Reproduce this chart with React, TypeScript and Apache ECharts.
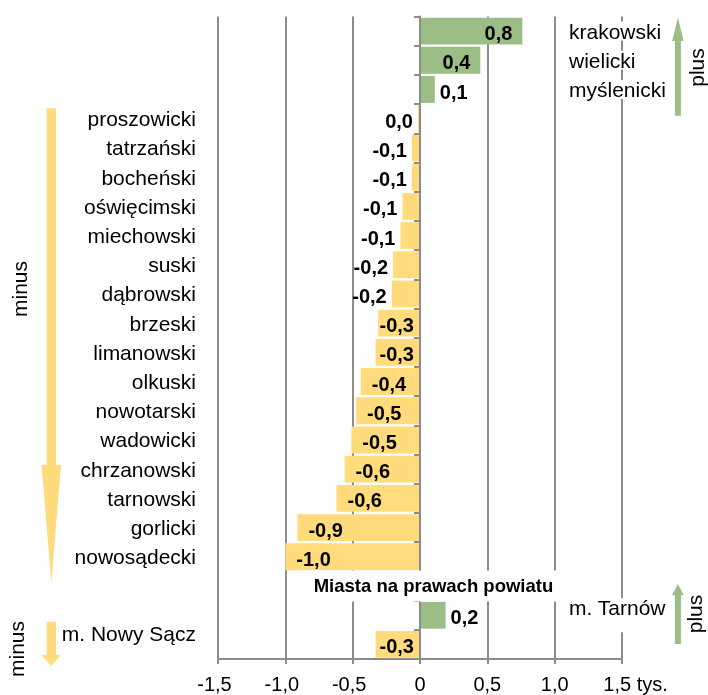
import React, { useEffect, useRef } from 'react';
import * as echarts from 'echarts';

// ---- data ----
const plusNames = ['krakowski', 'wielicki', 'myślenicki'];
const plusValues = [0.76, 0.448, 0.11];
const minusNames = [
  'proszowicki', 'tatrzański', 'bocheński', 'oświęcimski', 'miechowski', 'suski',
  'dąbrowski', 'brzeski', 'limanowski', 'olkuski', 'nowotarski', 'wadowicki',
  'chrzanowski', 'tarnowski', 'gorlicki', 'nowosądecki',
];
const minusValues = [
  -0.015, -0.06, -0.06, -0.13, -0.145, -0.2,
  -0.21, -0.31, -0.33, -0.44, -0.475, -0.51,
  -0.56, -0.62, -0.91, -1.0,
];
const cityHeader = 'Miasta na prawach powiatu';
const cityPlusNames = ['m. Tarnów'];
const cityPlusValues = [0.19];
const cityMinusNames = ['m. Nowy Sącz'];
const cityMinusValues = [-0.33];
const unitLabel = 'tys.';
const plusWord = 'plus';
const minusWord = 'minus';

// ---- style ----
const GREEN = '#9BBE86';
const YELLOW = '#FFDB7C';
const GRAY = '#8C8C8C';
const FONT = "'Liberation Sans', Arial, sans-serif";

const categories = [...plusNames, ...minusNames, cityHeader, ...cityPlusNames, ...cityMinusNames];
const values: (number | null)[] = [...plusValues, ...minusValues, null, ...cityPlusValues, ...cityMinusValues];
const leftSet = new Set([...minusNames, ...cityMinusNames]);
const rightSet = new Set([...plusNames, ...cityPlusNames]);

const fmt = (v: number) => {
  let s = v.toFixed(1);
  if (s === '-0.0') s = '0.0';
  return s.replace('.', ',');
};

const labelFor = (v: number) => {
  if (v >= 0) {
    return v > 0.3 ? { position: 'insideRight', distance: 10 } : { position: 'right', distance: 5 };
  }
  const a = Math.abs(v);
  if (a < 0.25) return { position: 'left', distance: 5 };
  if (a < 0.4) return { position: 'insideRight', distance: 6 };
  return { position: 'insideLeft', distance: 11 };
};

const arrowUp = (cx: number, tip: number, headBase: number, bottom: number, hw: number, sw: number) => [
  [cx, tip], [cx + hw, headBase], [cx + sw, headBase], [cx + sw, bottom],
  [cx - sw, bottom], [cx - sw, headBase], [cx - hw, headBase],
];
const arrowDown = (cx: number, top: number, headBase: number, tip: number, hw: number, sw: number) => [
  [cx - sw, top], [cx + sw, top], [cx + sw, headBase], [cx + hw, headBase],
  [cx, tip], [cx - hw, headBase], [cx - sw, headBase],
];

const vText = (x: number, y: number, text: string, size: number) => ({
  type: 'text', x, y, rotation: Math.PI / 2,
  style: { text, fill: '#000', font: `${size}px ${FONT}`, align: 'center', verticalAlign: 'middle' },
});

export default function App() {
  const ref = useRef<HTMLDivElement>(null);
  useEffect(() => {
    if (!ref.current) return;
    const chart = echarts.init(ref.current, null, { renderer: 'svg' });
    const lineStyle = { color: GRAY, width: 2 };
    const option: any = {
      animation: false,
      textStyle: { fontFamily: FONT },
      grid: { left: 218, right: 86, top: 16.5, bottom: 36, containLabel: false },
      xAxis: {
        type: 'value', min: -1.5, max: 1.5, interval: 0.5,
        axisLine: { show: true, onZero: false, lineStyle },
        axisTick: { show: true, length: 5, lineStyle },
        splitLine: { show: true, lineStyle },
        axisLabel: {
          margin: 15, fontSize: 20, color: '#000', fontFamily: FONT,
          formatter: (v: number) => {
            if (Math.abs(v - 1.5) < 1e-9) return '{q|\u00a0}' + fmt(v) + ' ' + unitLabel;
            if (v < 0) return fmt(v) + '{p|\u00a0}';
            return v === 0 ? '0' : fmt(v);
          },
          rich: {
            p: { width: 7, fontSize: 20, fontFamily: FONT },
            q: { width: 27, fontSize: 20, fontFamily: FONT },
          },
        },
      },
      yAxis: [
        {
          type: 'category', data: categories, inverse: true, position: 'left',
          axisLine: { show: false, onZero: false }, axisTick: { show: false },
          axisLabel: {
            interval: 0, margin: 22, fontSize: 21, color: '#000', fontFamily: FONT,
            lineHeight: 21, padding: [4, 0, 0, 0],
            formatter: (v: string) => (leftSet.has(v) ? (cityMinusNames.includes(v) ? v + '\n' : v) : ''),
          },
        },
        {
          type: 'category', data: categories, inverse: true, position: 'left', z: 5,
          axisLine: { show: true, onZero: true, lineStyle },
          axisTick: { show: true, length: 6, interval: 0, lineStyle },
          axisLabel: { show: false },
        },
        {
          type: 'category', data: categories, inverse: true, position: 'right', z: 1,
          axisLine: { show: false, onZero: false }, axisTick: { show: false },
          axisLabel: {
            interval: 0, margin: -55, align: 'left', fontSize: 21, color: '#000', fontFamily: FONT,
            backgroundColor: '#fff', padding: [4, 2, 0, 2], lineHeight: 15,
            formatter: (v: string) => (rightSet.has(v) ? (cityPlusNames.includes(v) ? v + '\n' : v) : ''),
          },
        },
      ],
      series: [
        {
          type: 'bar', yAxisIndex: 0, barCategoryGap: '8%',
          label: {
            show: true, fontSize: 20, fontWeight: 'bold', color: '#000', fontFamily: FONT,
            offset: [0, 2],
            formatter: (p: any) => fmt(p.value),
          },
          data: values.map((v) =>
            v == null
              ? null
              : { value: v, itemStyle: { color: v >= 0 ? GREEN : YELLOW }, label: labelFor(v) }
          ),
        },
        {
          type: 'scatter', yAxisIndex: 0, symbolSize: 0, z: 6,
          itemStyle: { color: '#fff' },
          data: [[0.1, cityHeader]],
          label: {
            show: true, position: 'inside', formatter: cityHeader,
            fontSize: 18.5, fontWeight: 'bold', color: '#000', fontFamily: FONT,
            textBorderWidth: 0, opacity: 1,
            backgroundColor: '#fff', padding: [6, 3],
          },
        },
      ],
      graphic: [
        { type: 'polygon', shape: { points: arrowUp(677.9, 17.7, 41, 115.7, 5.8, 3) }, style: { fill: GREEN } },
        { type: 'polygon', shape: { points: arrowUp(677.9, 584, 595, 644, 5.8, 3) }, style: { fill: GREEN } },
        { type: 'polygon', shape: { points: arrowDown(51.3, 108.3, 465, 583.3, 9.7, 4.7) }, style: { fill: YELLOW } },
        { type: 'polygon', shape: { points: arrowDown(51.3, 621.7, 655, 666, 9.7, 4.7) }, style: { fill: YELLOW } },
        vText(696, 67.5, plusWord, 21),
        vText(694, 614, plusWord, 21),
        vText(19, 289, minusWord, 21),
        vText(16.5, 649, minusWord, 21),
      ],
    };
    chart.setOption(option);
    return () => chart.dispose();
  }, []);
  return <div ref={ref} style={{ position: 'fixed', left: 0, top: 0, width: 708, height: 695 }} />;
}
